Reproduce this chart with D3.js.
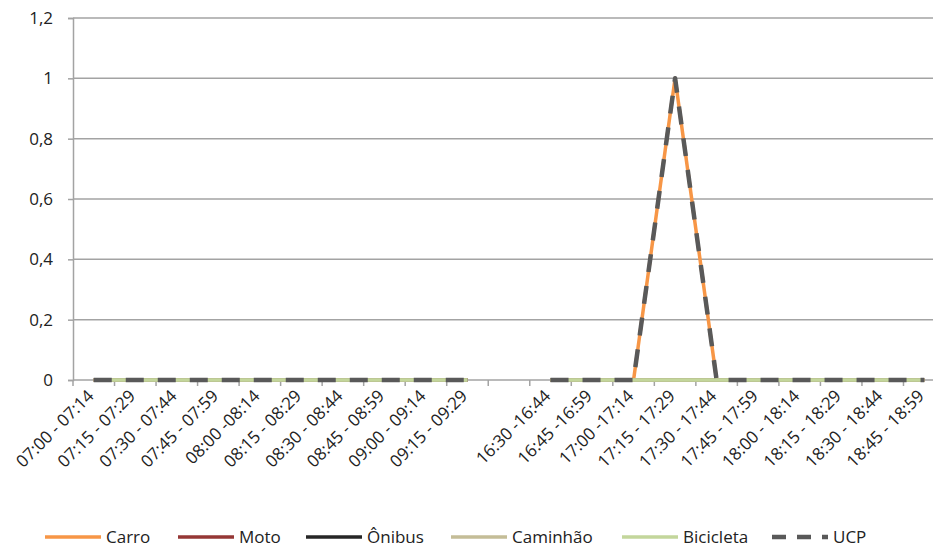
<!DOCTYPE html>
<html>
<head>
<meta charset="utf-8">
<script src="https://cdn.jsdelivr.net/npm/d3@7"></script>
<style>
  body { margin: 0; background: #fff; }
  svg { display: block; font-family: "Open Sans", "Liberation Sans", Arial, sans-serif; }
</style>
</head>
<body>
<div id="d3-container"></div>
<script>
/**
 * CONSTANTS AND DATA
 * */
const width = 933,
  height = 547,
  margin = { top: 18, bottom: 167, left: 73, right: -12 };

// time slots (one empty slot between the morning and evening periods)
const categories = [
  "07:00 - 07:14", "07:15 - 07:29", "07:30 - 07:44", "07:45 - 07:59", "08:00 -08:14",
  "08:15 - 08:29", "08:30 - 08:44", "08:45 - 08:59", "09:00 - 09:14", "09:15 - 09:29",
  "",
  "16:30 -16:44", "16:45 -16:59", "17:00 -17:14", "17:15 - 17:29", "17:30 - 17:44",
  "17:45 - 17:59", "18:00 - 18:14", "18:15 - 18:29", "18:30 - 18:44", "18:45 - 18:59"
];

const carro     = [0,0,0,0,0,0,0,0,0,0,null,0,0,0,1,0,0,0,0,0,0];
const moto      = [0,0,0,0,0,0,0,0,0,0,null,0,0,0,0,0,0,0,0,0,0];
const onibus    = [0,0,0,0,0,0,0,0,0,0,null,0,0,0,0,0,0,0,0,0,0];
const caminhao  = [0,0,0,0,0,0,0,0,0,0,null,0,0,0,0,0,0,0,0,0,0];
const bicicleta = [0,0,0,0,0,0,0,0,0,0,null,0,0,0,0,0,0,0,0,0,0];
const ucp       = [0,0,0,0,0,0,0,0,0,0,null,0,0,0,1,0,0,0,0,0,0];

const yTicks = [0, 0.2, 0.4, 0.6, 0.8, 1, 1.2];

const series = [
  { name: "Carro", values: carro, color: "#F79646", dash: null },
  { name: "Moto", values: moto, color: "#953735", dash: null },
  { name: "Ônibus", values: onibus, color: "#262626", dash: null },
  { name: "Caminhão", values: caminhao, color: "#C4BD97", dash: null },
  { name: "Bicicleta", values: bicicleta, color: "#C3D69B", dash: null },
  { name: "UCP", values: ucp, color: "#595959", dash: "18,14" },
];

/**
 * SCALES
 * */
const x = d3.scaleBand()
  .domain(d3.range(categories.length))
  .range([margin.left, width - margin.right])
  .padding(0);

const y = d3.scaleLinear()
  .domain([0, 1.2])
  .range([height - margin.bottom, margin.top]);

const fmt = d => String(+d.toFixed(1)).replace(".", ",");

const svg = d3.select("#d3-container")
  .append("svg")
  .attr("width", width)
  .attr("height", height);

// gridlines
svg.append("g")
  .selectAll("line")
  .data(yTicks.filter(d => d > 0))
  .join("line")
  .attr("x1", margin.left)
  .attr("x2", width)
  .attr("y1", d => y(d))
  .attr("y2", d => y(d))
  .attr("stroke", "#A3A3A3")
  .attr("stroke-width", 1.5);

// y axis
const yAxis = svg.append("g")
  .attr("transform", `translate(${margin.left},0)`)
  .call(d3.axisLeft(y).tickValues(yTicks).tickSize(5).tickPadding(15).tickFormat(fmt));
yAxis.select(".domain").attr("stroke", "#A3A3A3").attr("stroke-width", 1.5);
yAxis.selectAll(".tick line").attr("stroke", "#A3A3A3").attr("stroke-width", 1.5);
yAxis.selectAll("text")
  .attr("font-family", "Open Sans")
  .attr("font-size", 17)
  .attr("fill", "#222");

// x axis: ticks between categories
const y0 = y(0);
svg.append("line")
  .attr("x1", margin.left)
  .attr("x2", width)
  .attr("y1", y0)
  .attr("y2", y0)
  .attr("stroke", "#A3A3A3")
  .attr("stroke-width", 1.5);

svg.append("g")
  .selectAll("line")
  .data(d3.range(categories.length))
  .join("line")
  .attr("x1", d => x(d))
  .attr("x2", d => x(d))
  .attr("y1", y0)
  .attr("y2", y0 + 6)
  .attr("stroke", "#A3A3A3")
  .attr("stroke-width", 1.5);

svg.append("g")
  .selectAll("text")
  .data(categories)
  .join("text")
  .attr("transform", (d, i) => `translate(${x(i) + x.bandwidth() / 2 + 1},${y0 + 17}) rotate(-45)`)
  .attr("text-anchor", "end")
  .attr("font-size", 17)
  .attr("fill", "#222")
  .text(d => d);

// lines
const line = d3.line()
  .defined(d => d.v !== null)
  .x(d => x(d.i) + x.bandwidth() / 2)
  .y(d => y(d.v));

svg.append("g")
  .selectAll("path")
  .data(series)
  .join("path")
  .attr("fill", "none")
  .attr("stroke", d => d.color)
  .attr("stroke-width", d => d.dash ? 4.5 : 3.5)
  .attr("stroke-dasharray", d => d.dash)
  .attr("stroke-linejoin", "round")
  .attr("d", d => line(d.values.map((v, i) => ({ i, v }))));

// legend
const legendX = [45, 178, 306, 451, 622, 772];
const legend = svg.append("g")
  .selectAll("g")
  .data(series)
  .join("g")
  .attr("transform", (d, i) => `translate(${legendX[i]},537)`);

legend.append("line")
  .attr("x1", 0)
  .attr("x2", 56)
  .attr("stroke", d => d.color)
  .attr("stroke-width", d => d.dash ? 4.5 : 3.5)
  .attr("stroke-dasharray", d => d.dash ? "14,11" : null);

legend.append("text")
  .attr("x", 61)
  .attr("y", 6)
  .attr("font-size", 17)
  .attr("fill", "#222")
  .text(d => d.name);
</script>
</body>
</html>
